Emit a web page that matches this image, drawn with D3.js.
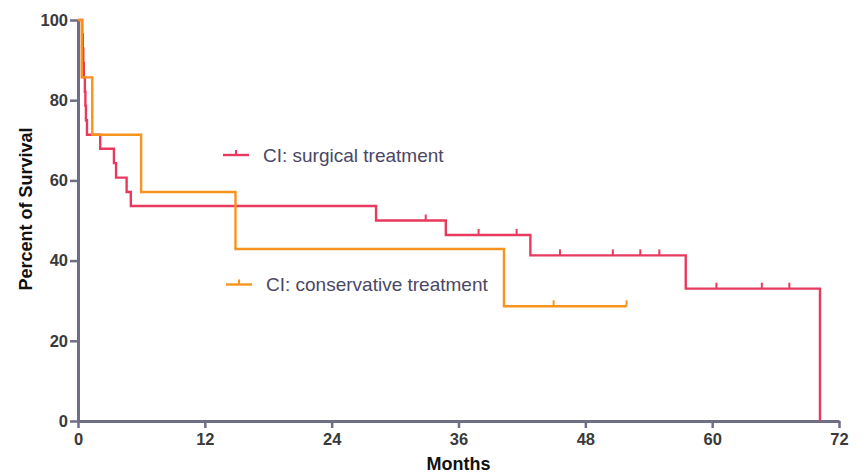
<!DOCTYPE html>
<html>
<head>
<meta charset="utf-8">
<script src="https://d3js.org/d3.v7.min.js"></script>
<style>
  body { margin: 0; background: #fff; }
  svg { display: block; font-family: "Liberation Sans", Arial, Helvetica, sans-serif; }
</style>
</head>
<body>
<div id="chart"></div>
<script>
// ticks
var monthTicks = [0, 12, 24, 36, 48, 60, 72];
var survivalTicks = [0, 20, 40, 60, 80, 100];

// surgical treatment: step times (months) and survival (%)
var surgicalTime = [0, 0.40, 0.45, 0.50, 0.55, 0.65, 0.70, 0.75, 0.85, 2.1, 3.4, 3.6, 4.6, 5.0, 28.2, 34.8, 42.8, 57.5, 70.2];
var surgicalSurv = [100, 96.4, 92.9, 89.3, 85.7, 82.1, 78.6, 75.0, 71.4, 67.9, 64.3, 60.7, 57.1, 53.6, 50.0, 46.4, 41.3, 33.0, 0];
var surgicalCensor = [32.9, 37.9, 41.5, 45.6, 50.6, 53.2, 55.0, 60.4, 64.7, 67.3];

// conservative treatment
var conservTime = [0, 0.35, 1.35, 5.97, 14.9, 40.3, 51.9];
var conservSurv = [100, 85.7, 71.4, 57.1, 42.9, 28.6, 28.6];
var conservCensor = [45.0, 51.9];

var W = 862, H = 475;
var red = "#e83a5e", orange = "#f7941d", axisColor = "#6f6e87", labelColor = "#3a3a3a";

var svg = d3.select("#chart").append("svg").attr("width", W).attr("height", H);

var x = d3.scaleLinear().domain([0, 72]).range([78, 839]);
var y = d3.scaleLinear().domain([0, 100]).range([421, 20]);

// axes
var xAxis = svg.append("g").attr("transform", "translate(0,421)")
    .call(d3.axisBottom(x).tickValues(monthTicks).tickSize(7).tickPadding(5).tickSizeOuter(0));
var yAxis = svg.append("g").attr("transform", "translate(78,0)")
    .call(d3.axisLeft(y).tickValues(survivalTicks).tickSize(8).tickPadding(2).tickSizeOuter(0));

[xAxis, yAxis].forEach(function (g) {
    g.select(".domain").attr("stroke", axisColor).attr("stroke-width", 3);
    g.selectAll(".tick line").attr("stroke", axisColor).attr("stroke-width", 2.5);
    g.selectAll(".tick text").attr("fill", labelColor)
        .style("font-size", "16.5px").style("font-weight", "bold")
        .style("font-family", "'Liberation Sans', Arial, sans-serif");
});

// survival curves
function curve(times, surv) {
    return times.map(function (t, i) { return [t, surv[i]]; });
}
function survAt(times, surv, t) {
    var v = surv[0];
    for (var i = 0; i < times.length; i++) { if (times[i] <= t) v = surv[i]; }
    return v;
}
var line = d3.line().x(function (d) { return x(d[0]); }).y(function (d) { return y(d[1]); })
    .curve(d3.curveStepAfter);

var series = [
    { time: surgicalTime, surv: surgicalSurv, censor: surgicalCensor, color: red },
    { time: conservTime, surv: conservSurv, censor: conservCensor, color: orange }
];

series.forEach(function (s) {
    svg.append("path")
        .datum(curve(s.time, s.surv))
        .attr("d", line)
        .attr("fill", "none")
        .attr("stroke", s.color)
        .attr("stroke-width", 2.4);
    svg.selectAll(null)
        .data(s.censor)
        .enter()
        .append("line")
        .attr("x1", function (d) { return x(d); })
        .attr("x2", function (d) { return x(d); })
        .attr("y1", function (d) { return y(survAt(s.time, s.surv, d)); })
        .attr("y2", function (d) { return y(survAt(s.time, s.surv, d)) - 6; })
        .attr("stroke", s.color)
        .attr("stroke-width", 2);
});

// legends
var legends = [
    { label: "CI: surgical treatment", color: red, x: 223, y: 155 },
    { label: "CI: conservative treatment", color: orange, x: 226, y: 284.5 }
];
legends.forEach(function (l) {
    var g = svg.append("g").attr("transform", "translate(" + l.x + "," + l.y + ")");
    g.append("line").attr("x1", 0).attr("x2", 26).attr("y1", 0).attr("y2", 0)
        .attr("stroke", l.color).attr("stroke-width", 2.4);
    g.append("line").attr("x1", 13).attr("x2", 13).attr("y1", 0).attr("y2", -5)
        .attr("stroke", l.color).attr("stroke-width", 2);
    g.append("text").attr("x", 40).attr("y", 6.5)
        .attr("fill", "#4a4766")
        .style("font-size", "19px")
        .text(l.label);
});

// axis titles
svg.append("text")
    .attr("x", (x(0) + x(72)) / 2).attr("y", 470)
    .attr("text-anchor", "middle")
    .attr("fill", "#111")
    .style("font-size", "18px").style("font-weight", "bold")
    .text("Months");
svg.append("text")
    .attr("transform", "translate(32,209) rotate(-90)")
    .attr("text-anchor", "middle")
    .attr("fill", "#111")
    .style("font-size", "18px").style("font-weight", "bold")
    .text("Percent of Survival");
</script>
</body>
</html>
